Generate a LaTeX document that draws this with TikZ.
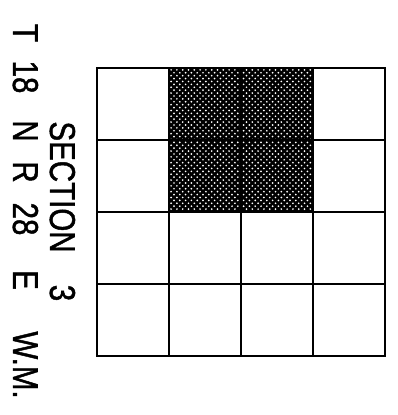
\documentclass[tikz,border=0pt]{standalone}
\usepackage{fontspec}
\newfontfamily\platfont[FakeStretch=0.82, FakeBold=1.2]{Liberation Sans}
\usetikzlibrary{patterns}
% white dots on the shaded quarter sections
\pgfdeclarepatternformonly{plat dots}{\pgfqpoint{-2pt}{-2pt}}{\pgfqpoint{5pt}{5pt}}{\pgfqpoint{5.8pt}{5.8pt}}{%
	\pgfpathcircle{\pgfqpoint{0pt}{0pt}}{.95pt}%
	\pgfpathcircle{\pgfqpoint{2.9pt}{2.9pt}}{.95pt}%
	\pgfusepath{fill}}

\begin{document}
\begin{tikzpicture}[x=1pt, y=-1pt,
		gridline/.style={line width=2.2pt, line cap=rect},
		platlabel/.style={font=\platfont\fontsize{36}{36}\selectfont, rotate=-90, anchor=base, inner sep=0pt}]
		\useasboundingbox (0, 0) rectangle (397, 415);
		% shaded part of the section: columns 2-3, rows 1-2
		\fill [black] (169, 68) rectangle (313, 212);
		\fill [pattern=plat dots, pattern color=white] (169, 68) rectangle (313, 212);
		% the 4 x 4 grid of the section
		\foreach \k in {0, 1, 2, 3, 4} {
			\draw [gridline] ({97 + 72*\k}, 68) -- ({97 + 72*\k}, 356);
			\draw [gridline] (97, {68 + 72*\k}) -- (385, {68 + 72*\k});
		}
		% township and range, read from top to bottom
		\node [platlabel] (twp) at (13, 33) {T};
		\node [platlabel] (twpnum) at (13, 77) {18};
		\node [platlabel] (twpdir) at (13, 131) {N};
		\node [platlabel] (rng) at (13, 172) {R};
		\node [platlabel] (rngnum) at (13, 219) {28};
		\node [platlabel] (rngdir) at (13, 280) {E};
		\node [platlabel] (mer) at (13, 365) {W.M.};
		% section number
		\node [platlabel] (sec) at (50, 187) {SECTION};
		\node [platlabel] (secnum) at (50, 293) {3};
	\end{tikzpicture}
\end{document}
